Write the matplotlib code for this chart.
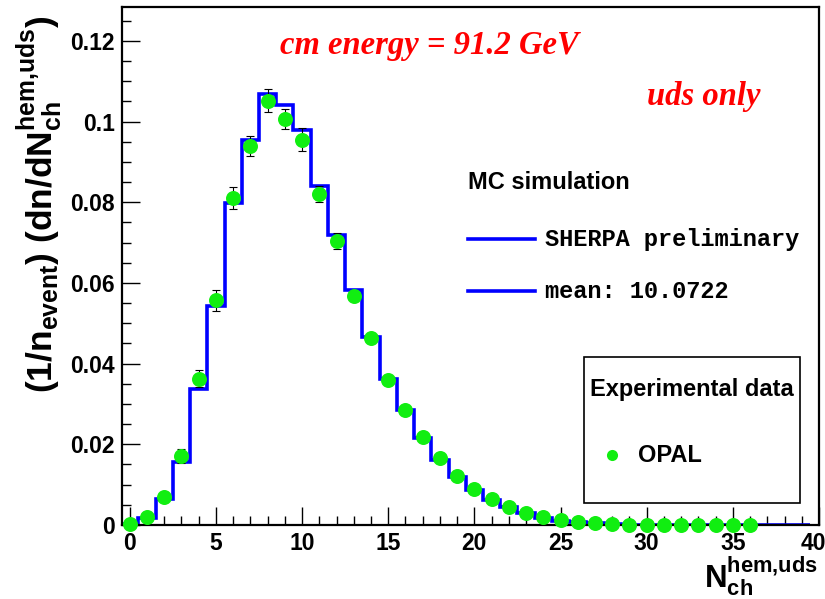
"""Charged multiplicity per hemisphere (uds events): SHERPA histogram vs OPAL data."""

import matplotlib
matplotlib.use("Agg")
import matplotlib.pyplot as plt
import matplotlib.transforms as mtransforms
import numpy as np
from matplotlib.patches import Rectangle

plt.rcParams["font.family"] = ["Liberation Sans", "DejaVu Sans"]
plt.rcParams["mathtext.fontset"] = "custom"
plt.rcParams["mathtext.rm"] = "Liberation Sans"
plt.rcParams["mathtext.bf"] = "Liberation Sans:bold"
plt.rcParams["mathtext.it"] = "Liberation Sans:italic"

# SHERPA prediction, one bin per multiplicity 0..39
mc_values = [0.0003, 0.0017, 0.0064, 0.0157, 0.0338, 0.0543, 0.0799, 0.0953,
             0.1069, 0.1040, 0.0980, 0.0841, 0.0718, 0.0582, 0.0465, 0.0362,
             0.0285, 0.0215, 0.0161, 0.0120, 0.0087, 0.0062, 0.0045, 0.0029,
             0.0018, 0.0011, 0.0007, 0.0004, 0.0002, 0.0001, 0.0, 0.0,
             0.0, 0.0, 0.0, 0.0, 0.0, 0.0, 0.0, 0.0]

# OPAL measurement, multiplicity 0..36
opal_n = list(range(37))
opal_values = [0.0002, 0.0019, 0.0070, 0.0171, 0.0363, 0.0557, 0.0811, 0.0939,
               0.1052, 0.1007, 0.0955, 0.0820, 0.0704, 0.0568, 0.0463, 0.0359,
               0.0285, 0.0217, 0.0167, 0.0122, 0.0089, 0.0064, 0.0045, 0.0031,
               0.0021, 0.0012, 0.0008, 0.0004, 0.0002, 0.0001, 0.0001, 0.0,
               0.0, 0.0, 0.0, 0.0, 0.0]
opal_errors = [0.0001, 0.0002, 0.0008, 0.0018, 0.0021, 0.0026, 0.0027, 0.0025,
               0.0028, 0.0025, 0.0028, 0.0020, 0.0020, 0.0008, 0.0006, 0.0005,
               0.0004, 0.0003, 0.0003, 0.0002, 0.0002, 0.0001, 0.0001, 0.0001,
               0.0001, 0.0, 0.0, 0.0, 0.0, 0.0, 0.0, 0.0,
               0.0, 0.0, 0.0, 0.0, 0.0]

y_ticks = [0, 0.02, 0.04, 0.06, 0.08, 0.1, 0.12]
y_ticklabels = ["0", "0.02", "0.04", "0.06", "0.08", "0.1", "0.12"]
x_ticks = [0, 5, 10, 15, 20, 25, 30, 35, 40]

BLUE = "#0000ff"
GREEN = "#11ee11"
RED = "#ff0000"

fig = plt.figure(figsize=(8.25, 5.99), dpi=100)
ax = fig.add_axes([0.1479, 0.1235, 0.8448, 0.8643])

edges = np.arange(len(mc_values) + 1) - 0.5
ax.stairs(mc_values, edges, color=BLUE, lw=2.6, baseline=0, zorder=2)
ax.errorbar(opal_n, opal_values, yerr=opal_errors, fmt="none", ecolor="black",
            elinewidth=0.8, capsize=3, capthick=0.8, zorder=3)
ax.plot(opal_n, opal_values, "o", color=GREEN, ms=10.8, mec="none",
        zorder=4, clip_on=False)

ax.set_xlim(-0.45, 40)
ax.set_ylim(0, 0.1283)
ax.set_xticks(x_ticks)
ax.set_xticks(np.arange(0, 41, 1), minor=True)
ax.set_yticks(y_ticks, y_ticklabels)
ax.set_yticks(np.arange(0, 0.1281, 0.005), minor=True)
ax.tick_params(which="both", direction="in", top=False, right=False, width=1)
ax.tick_params(which="major", length=13, labelsize=16.5, pad=5)
ax.tick_params(which="minor", length=6.5)
for lab in ax.get_xticklabels() + ax.get_yticklabels():
    lab.set_fontweight("bold")
# keep the last x label inside the canvas
last = ax.get_xticklabels()[-1]
last.set_transform(last.get_transform()
                   + mtransforms.ScaledTranslation(-6 / 100, 0, fig.dpi_scale_trans))
for s in ax.spines.values():
    s.set_linewidth(1.6)

ax.set_ylabel(r"$\mathbf{(1/n_{event})\ (dn/dN_{ch}^{hem{,}uds})}$",
              fontsize=25.5, loc="top")
ax.yaxis.set_label_coords(-0.082, 0.985)
ax.set_xlabel(r"$\mathbf{N_{ch}^{hem{,}uds}}$", fontsize=22.5, loc="right")
ax.xaxis.label.set_va("bottom")
ax.xaxis.set_label_coords(0.998, -0.140)

serif = dict(family="Liberation Serif", style="italic", weight="bold",
             color=RED, fontsize=23.5, transform=ax.transAxes, va="center")
ax.text(0.227, 0.927, "cm energy = 91.2 GeV", **serif)
ax.text(0.753, 0.827, "uds only", **serif)

# MC legend (no frame)
ax.text(0.496, 0.661, "MC simulation", transform=ax.transAxes, fontsize=17,
        fontweight="bold", va="center")
mono = dict(family="Liberation Mono", weight="bold", fontsize=17,
            transform=ax.transAxes, va="center")
for yy, label in [(0.552, "SHERPA preliminary"), (0.452, "mean: 10.0722")]:
    ax.plot([0.496, 0.593], [yy, yy], color=BLUE, lw=2.6,
            transform=ax.transAxes)
    ax.text(0.607, yy, label, **mono)

# experimental data legend box
ax.add_patch(Rectangle((0.663, 0.0425), 0.310, 0.282, transform=ax.transAxes,
                       fill=False, ec="black", lw=1.2, zorder=5))
ax.text(0.818, 0.261, "Experimental data", transform=ax.transAxes,
        fontsize=17, fontweight="bold", ha="center", va="center")
ax.plot([0.703], [0.135], "o", color=GREEN, ms=8, mec="none",
        transform=ax.transAxes)
ax.text(0.740, 0.135, "OPAL", transform=ax.transAxes, fontsize=17,
        fontweight="bold", va="center")

fig.savefig("out.png", dpi=100)
